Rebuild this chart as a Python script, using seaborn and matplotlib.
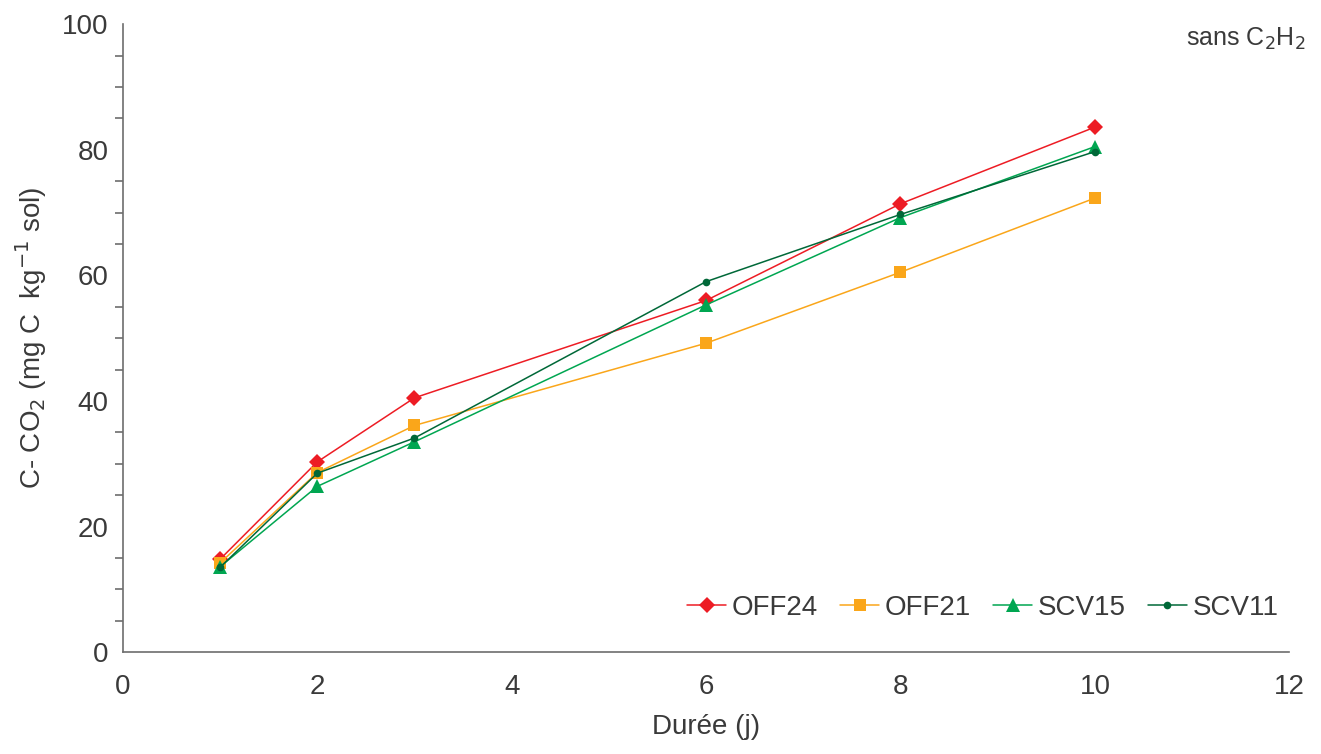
import pandas as pd
import matplotlib.pyplot as plt
import seaborn as sns
from matplotlib.ticker import MultipleLocator

# data
days = [1, 2, 3, 6, 8, 10]
off24 = [14.8, 30.3, 40.5, 56.0, 71.4, 83.6]
off21 = [14.2, 28.6, 36.1, 49.2, 60.5, 72.3]
scv15 = [13.6, 26.4, 33.5, 55.3, 69.2, 80.5]
scv11 = [13.5, 28.5, 34.1, 59.0, 69.7, 79.7]

series = ["OFF24", "OFF21", "SCV15", "SCV11"]
df = pd.DataFrame({
    "Durée": days * 4,
    "C": off24 + off21 + scv15 + scv11,
    "serie": [s for s in series for _ in days],
})

sns.set_style("white")
plt.rcParams['font.family'] = ['Liberation Sans', 'DejaVu Sans']

colors = {"OFF24": "#ED1C24", "OFF21": "#FAA61A", "SCV15": "#00A651", "SCV11": "#006838"}
markers = {"OFF24": "D", "OFF21": "s", "SCV15": "^", "SCV11": "o"}
sizes = {"OFF24": 8.5, "OFF21": 9, "SCV15": 9.5, "SCV11": 5.5}

fig, ax = plt.subplots(figsize=(13.21, 7.54), dpi=100)
for s in series:
    sub = df[df["serie"] == s]
    sns.lineplot(data=sub, x="Durée", y="C", ax=ax, color=colors[s],
                 marker=markers[s], markersize=sizes[s], markeredgewidth=0,
                 linewidth=1.1, label=s)

ax.set_xlim(0, 12)
ax.set_ylim(0, 100)
ax.xaxis.set_major_locator(MultipleLocator(2))
ax.yaxis.set_major_locator(MultipleLocator(20))
ax.yaxis.set_minor_locator(MultipleLocator(5))
sns.despine(ax=ax)
for sp in ["left", "bottom"]:
    ax.spines[sp].set_color("#6d6d6d")
    ax.spines[sp].set_linewidth(1.2)
ax.tick_params(axis="both", which="major", direction="out", length=5.5, width=1.2,
               color="#6d6d6d", labelsize=20, labelcolor="#3a3a3a")
ax.tick_params(axis="y", which="major", pad=5)
ax.tick_params(axis="x", which="major", pad=10)
ax.tick_params(axis="y", which="minor", direction="out", length=5.5, width=1.2,
               color="#6d6d6d", left=True)

ax.set_xlabel("Durée (j)", fontsize=20, color="#3a3a3a", labelpad=10)
ax.set_ylabel("C- CO$_2$ (mg C  kg$^{-1}$ sol)", fontsize=20, color="#3a3a3a", labelpad=9)

ax.text(1.014, 0.998, "sans C$_2$H$_2$", transform=ax.transAxes, ha="right", va="top",
        fontsize=18, color="#3a3a3a")

leg = ax.legend(loc="lower right", ncol=4, frameon=False, fontsize=20,
                handlelength=1.4, handletextpad=0.2, columnspacing=0.8,
                bbox_to_anchor=(1.012, 0.01), labelcolor="#3a3a3a")

fig.subplots_adjust(left=0.093, right=0.976, top=0.968, bottom=0.135)
fig.savefig("out.png", dpi=100)
